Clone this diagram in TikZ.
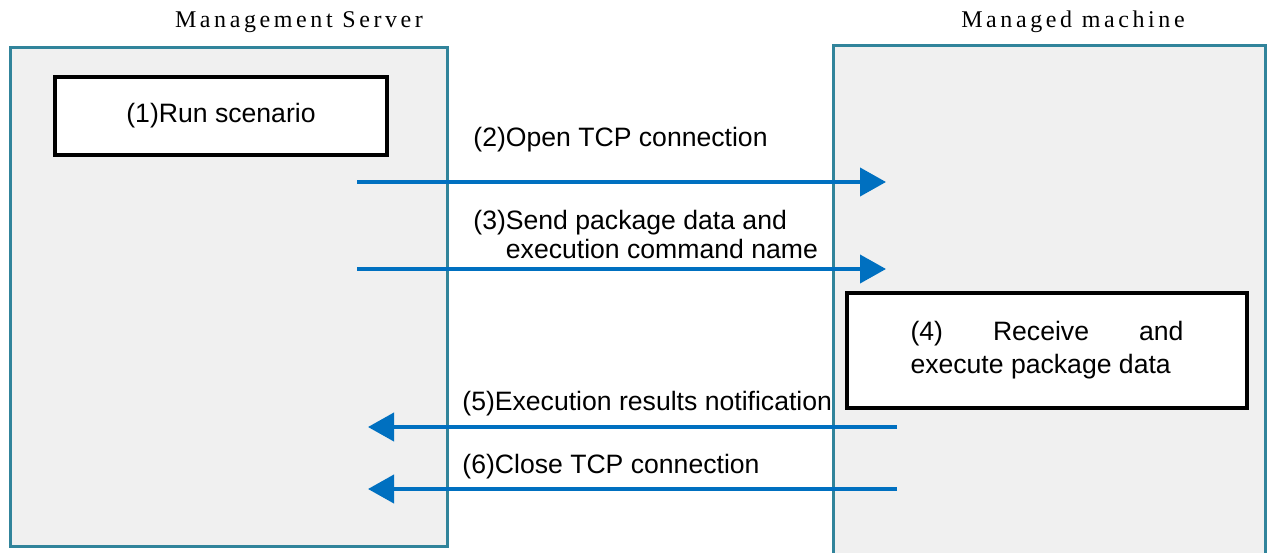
\documentclass[tikz,border=0pt]{standalone}
\usepackage{fontspec}
\setmainfont{Liberation Sans}
\newfontfamily\titlefont[LetterSpace=15]{Liberation Serif}
\usetikzlibrary{arrows.meta}
\usetikzlibrary{positioning}
\definecolor{laneteal}{RGB}{49,132,155}
\definecolor{lanegray}{RGB}{240,240,240}
\definecolor{msgblue}{RGB}{0,112,192}

\begin{document}
\begin{tikzpicture}[
        x=0.5pt, y=-0.5pt,
        lane/.style={
            rectangle, inner sep=0pt,
            draw=laneteal, line width=1.5pt,
            fill=lanegray,
        },
        stepbox/.style={
            rectangle, draw=black, line width=1.75pt,
            fill=white,
        },
        msg/.style={
            draw=msgblue, line width=2pt,
            -{Triangle[length=13pt, width=14pt]},
        },
        msglabel/.style={
            anchor=base west, inner sep=0pt,
            font=\fontsize{13.3}{14.5}\selectfont,
        },
        lanetitle/.style={
            font=\titlefont\fontsize{12}{14}\selectfont,
        },
    ]
        \clip (0,0) rectangle (1268,552);

        % the two sides
        \node (server) at (228.5,296.5) [
            lane, minimum width=218.5pt, minimum height=249.5pt,
        ] {};
        \node (machine) at (1049,305) [
            lane, minimum width=216pt, minimum height=260pt,
        ] {};

        \node (servertitle) at (299,22) [lanetitle] {Management Server};
        \node (machinetitle) at (1073,22) [lanetitle] {Managed machine};

        \node (run) at (221,116) [
            stepbox, minimum width=166pt, minimum height=39pt,
            font=\fontsize{13.3}{14.5}\selectfont,
        ] {(1)Run scenario};
        \node (execute) at (1047,350.5) [
            stepbox, minimum width=200pt, minimum height=57.5pt,
            text width=136.5pt, align=justify,
            font=\fontsize{13.3}{16.5}\selectfont,
        ] {(4) Receive and \mbox{execute} package data};

        % messages
        \coordinate (open-from) at (357,182);
        \coordinate (open-to) at (886,182);
        \coordinate (send-from) at (357,269);
        \coordinate (send-to) at (886,269);
        \coordinate (result-from) at (897,427);
        \coordinate (result-to) at (368,427);
        \coordinate (close-from) at (897,489);
        \coordinate (close-to) at (368,489);

        \draw [msg] (open-from) -- (open-to);
        \draw [msg] (send-from) -- (send-to);
        \draw [msg] (result-from) -- (result-to);
        \draw [msg] (close-from) -- (close-to);

        \node (openlabel) at (473,146) [msglabel] {(2)Open TCP connection};
        \node (sendlabel) at (473,258) [msglabel, align=left]
            {(3)Send package data and\\\phantom{(3)}execution command name};
        \node (resultlabel) at (462,410) [msglabel] {(5)Execution results notification};
        \node (closelabel) at (462,473) [msglabel] {(6)Close TCP connection};
    \end{tikzpicture}
\end{document}
